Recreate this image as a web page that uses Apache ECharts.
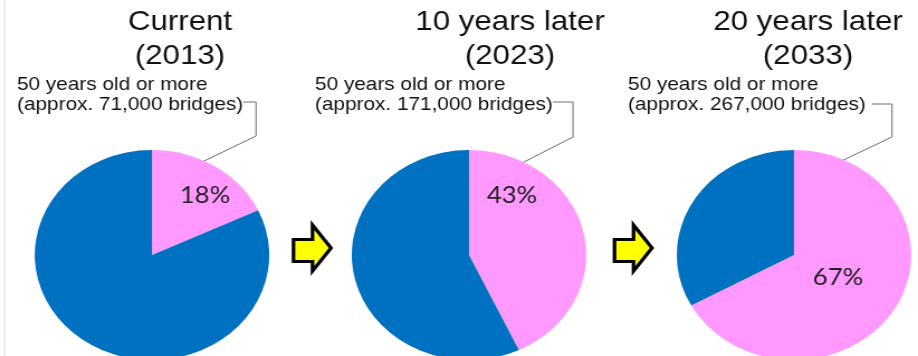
<!DOCTYPE html>
<html><head><meta charset="utf-8">
<script src="https://cdn.jsdelivr.net/npm/echarts@6/dist/echarts.min.js"></script>
<style>
html,body{margin:0;padding:0;background:#fff;overflow:hidden}
#wrap{width:918px;height:356px;overflow:hidden;position:relative;background:#fff}
#chart{position:absolute;left:0;top:0;width:822px;height:356px;transform-origin:0 0;transform:scaleX(1.1168)}
</style></head>
<body><div id="wrap"><div id="chart"></div></div>
<script>
// ---- data ----
const titles = ['Current\n(2013)', '10 years later\n(2023)', '20 years later\n(2033)'];
const categories = ['50 years old or more', 'Less than 50 years old'];
const oldShare = [18, 43, 67];
const newShare = [82, 57, 33];
const bridgeCounts = ['71,000', '171,000', '267,000'];

// ---- layout (reference pixel space; the chart is stretched horizontally) ----
const S = 918 / 822;
const X = x => x / S;
const pieCx = [152, 469, 794];
const pieCy = 255;
const pieR = 105;
const titleX = [180, 510, 808];
const noteX = [17, 315, 628];
const pctPos = [[205, 196], [512, 196], [838, 278]];
const leaders = [
  [[243, 102], [256, 102], [256, 136], [202, 162]],
  [[553, 102], [573, 102], [573, 137], [522, 163]],
  [[872, 104], [892, 104], [892, 137], [837, 163]]
];
const arrowX = [292, 613];

const chart = echarts.init(document.getElementById('chart'), null, {renderer: 'canvas'});

const graphic = [];
graphic.push({type: 'line', shape: {x1: X(4.5), y1: 0, x2: X(4.5), y2: 356}, style: {stroke: '#e2e2e2', lineWidth: 1}});
titles.forEach((t, i) => {
  graphic.push({type: 'text', x: X(titleX[i]), y: 5, style: {
    text: t, fontFamily: 'Liberation Sans, Arial, sans-serif', fontSize: 28, lineHeight: 34,
    fill: '#111', align: 'center', verticalAlign: 'top'}});
  graphic.push({type: 'text', x: X(noteX[i]), y: 75, style: {
    text: categories[0] + '\n(approx. ' + bridgeCounts[i] + ' bridges)',
    fontFamily: 'Liberation Sans, Arial, sans-serif', fontSize: 18.6, lineHeight: 20,
    fill: '#111', align: 'left', verticalAlign: 'top'}});
  graphic.push({type: 'polyline', shape: {points: leaders[i].map(p => [X(p[0]), p[1]])},
    style: {stroke: '#6e6e6e', lineWidth: 1, fill: null}});
});
arrowX.forEach(ax => {
  const l = ax + 1.5, hb = ax + 20.5, tip = ax + 39;
  graphic.push({type: 'polygon', shape: {points: [
    [X(l), 239.5], [X(hb), 239.5], [X(hb), 225], [X(tip), 248],
    [X(hb), 271], [X(hb), 261.5], [X(l), 261.5]]},
    style: {fill: '#FFFF00', stroke: '#000', lineWidth: 3.2, lineJoin: 'miter'}});
});

chart.setOption({
  backgroundColor: '#fff',
  animation: false,
  graphic: graphic,
  series: oldShare.map((v, i) => ({
    type: 'pie',
    center: [X(pieCx[i]), pieCy],
    radius: pieR,
    startAngle: 90,
    clockwise: true,
    silent: true,
    avoidLabelOverlap: false,
    emphasis: {disabled: true},
    itemStyle: {borderWidth: 0},
    label: {show: true, position: 'inside', formatter: '{c}%',
      fontFamily: 'Lato, Noto Sans, sans-serif', fontSize: 23, color: '#222'},
    labelLine: {show: false},
    labelLayout: {x: X(pctPos[i][0]), y: pctPos[i][1], align: 'center', verticalAlign: 'middle'},
    data: [
      {name: categories[0], value: v, itemStyle: {color: '#FF99FF'}},
      {name: categories[1], value: newShare[i], itemStyle: {color: '#0070C0'}, label: {show: false}}
    ]
  }))
});
</script>
</body></html>
